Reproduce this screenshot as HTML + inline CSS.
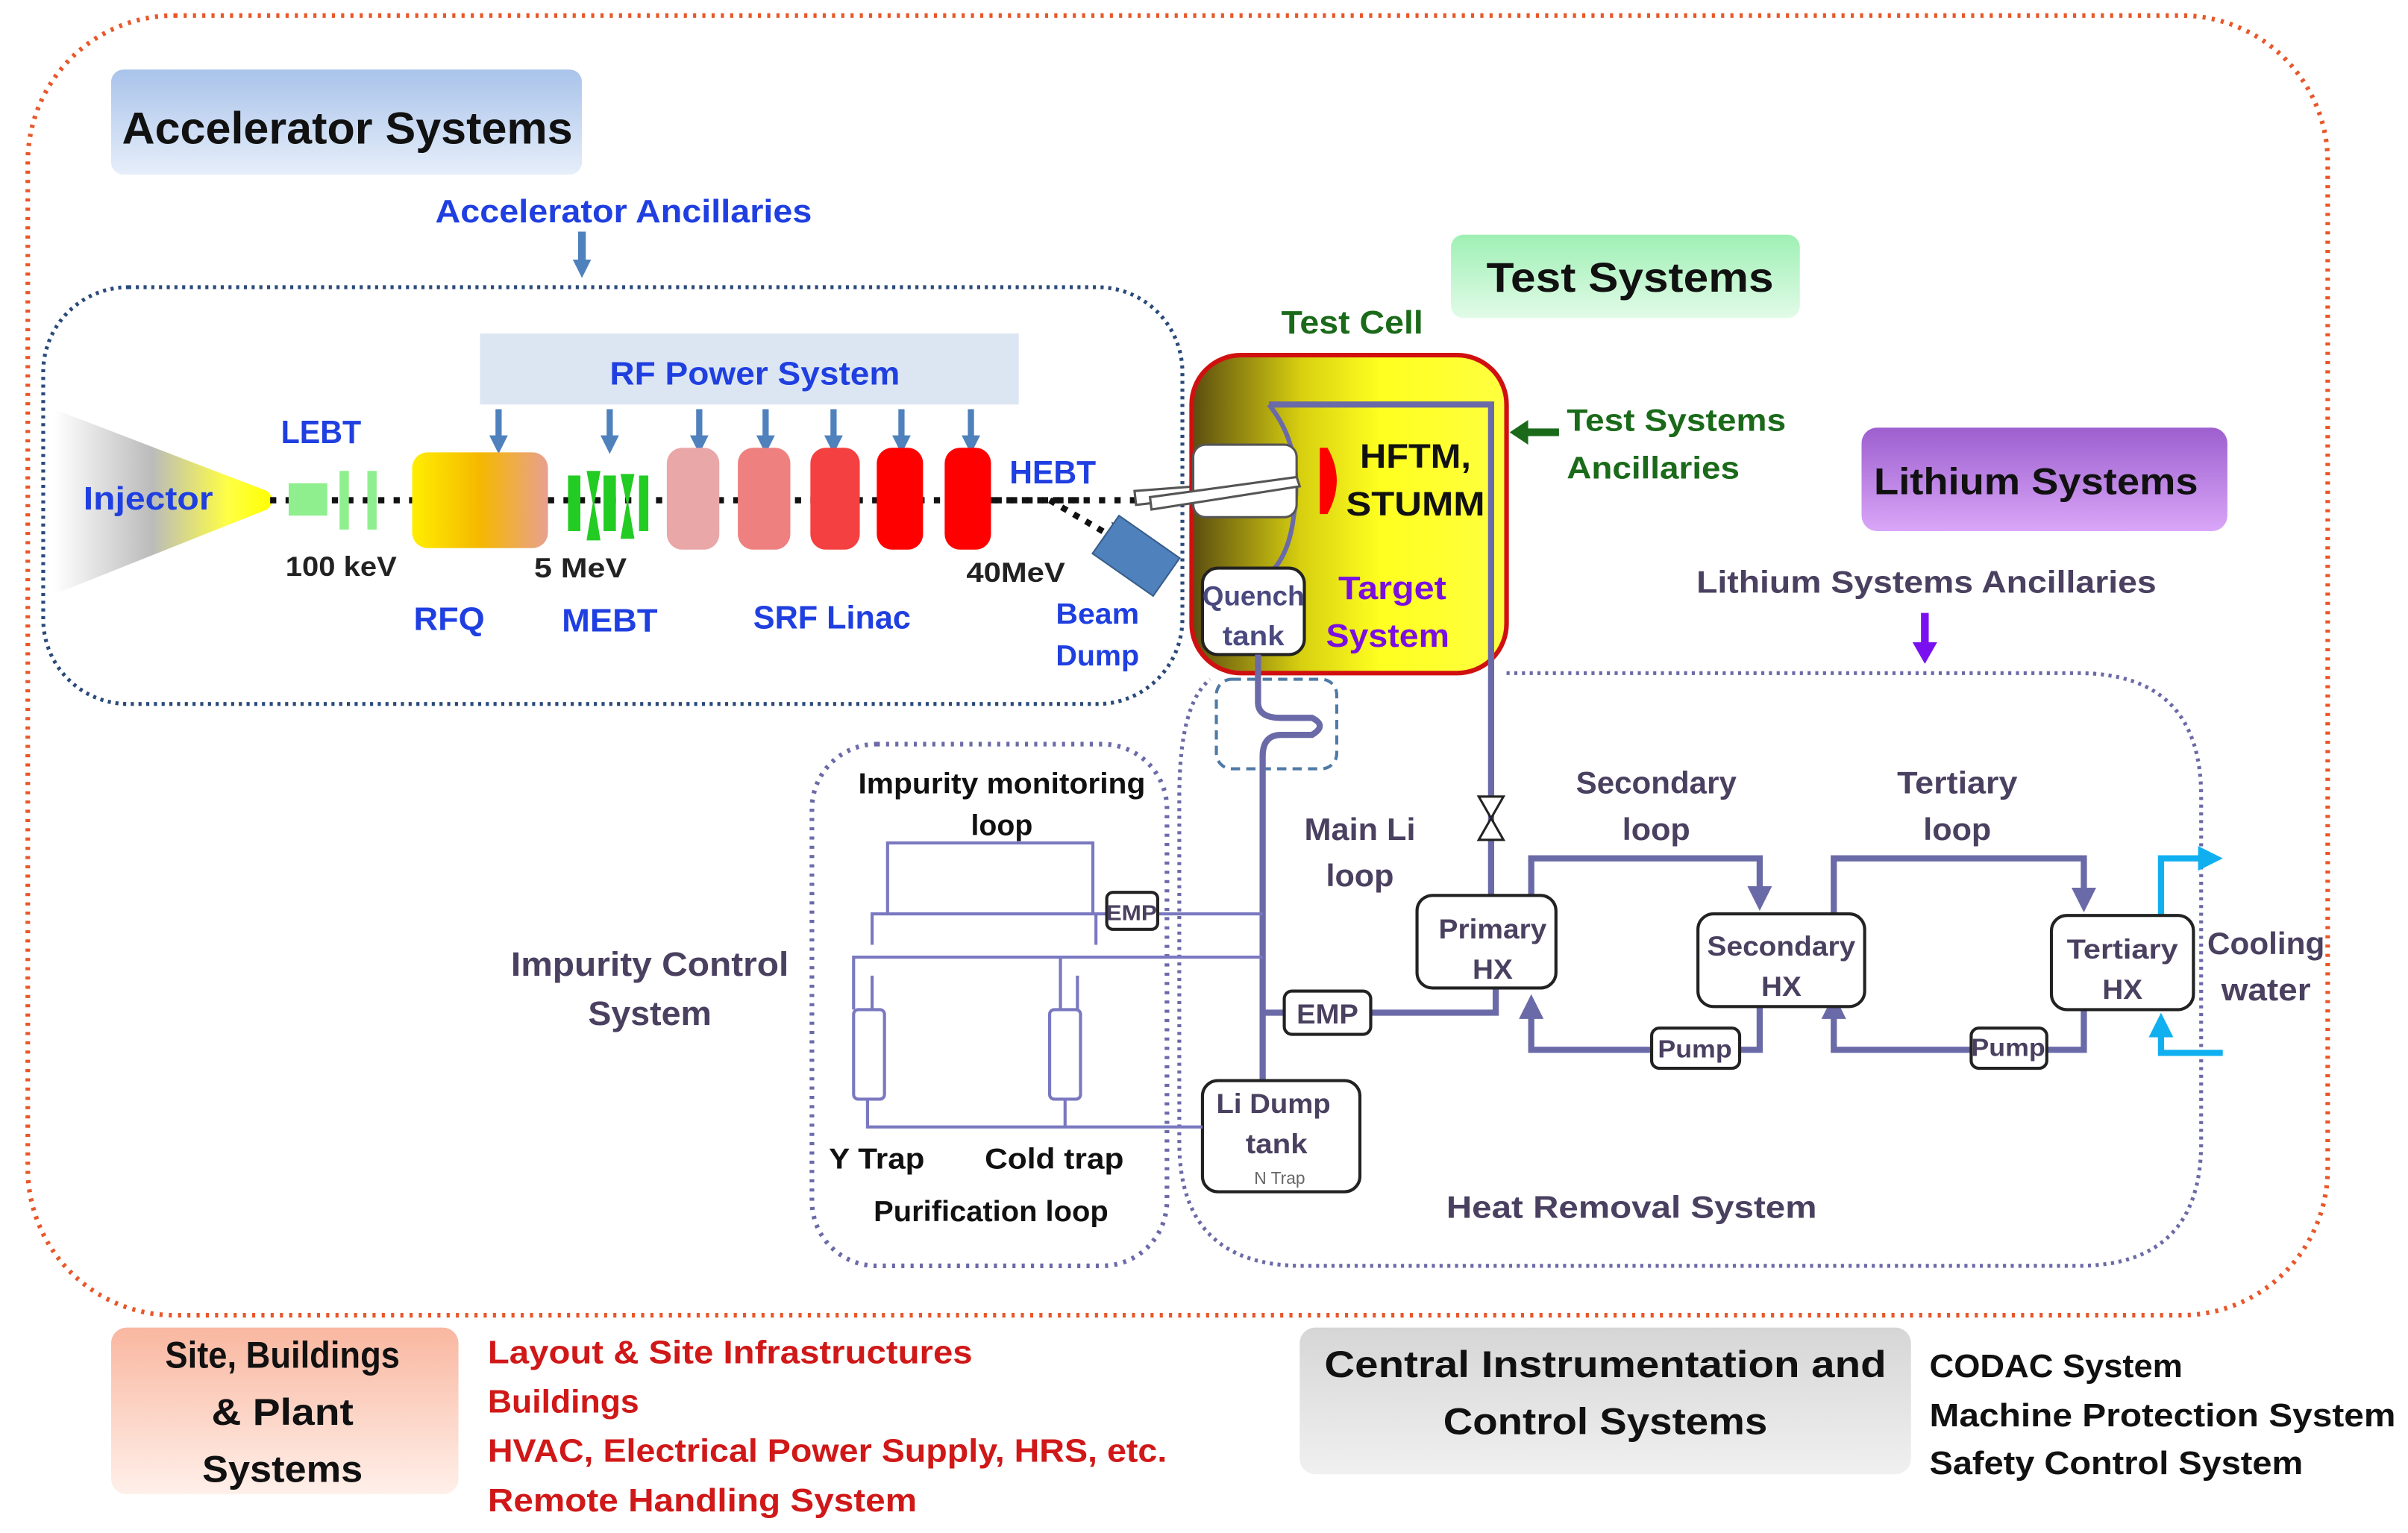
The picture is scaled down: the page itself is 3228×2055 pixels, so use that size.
<!DOCTYPE html>
<html><head><meta charset="utf-8"><style>
html,body{margin:0;padding:0;background:#fff}
svg{display:block}
text{font-family:"Liberation Sans",sans-serif;font-weight:bold}
</style></head><body>
<svg width="3228" height="2055" viewBox="0 0 1560 993" xmlns="http://www.w3.org/2000/svg">
<defs>
<linearGradient id="gAcc" x1="0" y1="0" x2="0" y2="1"><stop offset="0" stop-color="#a9c3ea"/><stop offset="1" stop-color="#e6eefa"/></linearGradient>
<linearGradient id="gTest" x1="0" y1="0" x2="0" y2="1"><stop offset="0" stop-color="#9ef0b4"/><stop offset="1" stop-color="#e2fbe8"/></linearGradient>
<linearGradient id="gLi" x1="0" y1="0" x2="0" y2="1"><stop offset="0" stop-color="#9d5fcf"/><stop offset="1" stop-color="#d9a6f8"/></linearGradient>
<linearGradient id="gSite" x1="0" y1="0" x2="0" y2="1"><stop offset="0" stop-color="#f9b7a0"/><stop offset="1" stop-color="#fff0ea"/></linearGradient>
<linearGradient id="gCIC" x1="0" y1="0" x2="0" y2="1"><stop offset="0" stop-color="#d6d6d6"/><stop offset="1" stop-color="#f0f0f0"/></linearGradient>
<linearGradient id="gInj" x1="0" y1="0" x2="1" y2="0"><stop offset="0" stop-color="#fff"/><stop offset="0.45" stop-color="#bbb"/><stop offset="0.8" stop-color="#ffff44"/><stop offset="1" stop-color="#ffff00"/></linearGradient>
<linearGradient id="gRFQ" x1="0" y1="0" x2="1" y2="0"><stop offset="0" stop-color="#ffee00"/><stop offset="0.5" stop-color="#f5b800"/><stop offset="1" stop-color="#e8a090"/></linearGradient>
<linearGradient id="gTgt" x1="0" y1="0" x2="1" y2="0"><stop offset="0" stop-color="#5a4c10"/><stop offset="0.35" stop-color="#d8d010"/><stop offset="0.6" stop-color="#ffff20"/><stop offset="1" stop-color="#ffff40"/></linearGradient>
<marker id="aB" markerUnits="userSpaceOnUse" markerWidth="12" markerHeight="12" refX="4" refY="6" orient="auto"><path d="M0,0 L12,6 L0,12z" fill="#4f81bd"/></marker>
<marker id="aP" markerWidth="4" markerHeight="4" refX="2" refY="2" orient="auto"><path d="M0,0 L4,2 L0,4z" fill="#6b6aa8"/></marker>
<marker id="aC" markerWidth="4" markerHeight="4" refX="2" refY="2" orient="auto"><path d="M0,0 L4,2 L0,4z" fill="#10b0f0"/></marker>
</defs>

<rect x="18" y="10" width="1490" height="842" rx="95" fill="none" stroke="#e8572a" stroke-width="3" stroke-dasharray="2 4"/>

<rect x="72" y="45" width="305" height="68" rx="8" fill="url(#gAcc)"/>
<text x="225" y="93" font-size="29" text-anchor="middle" fill="#111" textLength="292" lengthAdjust="spacingAndGlyphs">Accelerator Systems</text>
<text x="404" y="144" font-size="21" text-anchor="middle" fill="#1f3fe0" textLength="244" lengthAdjust="spacingAndGlyphs">Accelerator Ancillaries</text>
<line x1="377" y1="150" x2="377" y2="172" stroke="#4f81bd" stroke-width="5" marker-end="url(#aB)"/>

<rect x="28" y="186" width="738" height="270" rx="55" fill="none" stroke="#2a4a7a" stroke-width="2.5" stroke-dasharray="2 3"/>

<rect x="311" y="216" width="349" height="46" fill="#dce6f2"/>
<text x="489" y="249" font-size="21" text-anchor="middle" fill="#1f3fe0" textLength="188" lengthAdjust="spacingAndGlyphs">RF Power System</text>
<g stroke="#4f81bd" stroke-width="4" marker-end="url(#aB)">
<line x1="323" y1="265" x2="323" y2="286"/><line x1="395" y1="265" x2="395" y2="286"/><line x1="453" y1="265" x2="453" y2="286"/><line x1="496" y1="265" x2="496" y2="286"/><line x1="540" y1="265" x2="540" y2="286"/><line x1="584" y1="265" x2="584" y2="286"/><line x1="629" y1="265" x2="629" y2="286"/>
</g>

<path d="M35,265 L173,318 Q180,324 173,330 L35,385z" fill="url(#gInj)"/>
<text x="96" y="330" font-size="21" text-anchor="middle" fill="#1f3fe0" textLength="84" lengthAdjust="spacingAndGlyphs">Injector</text>
<text x="208" y="287" font-size="21" text-anchor="middle" fill="#1f3fe0" textLength="52" lengthAdjust="spacingAndGlyphs">LEBT</text>
<line x1="175" y1="324" x2="700" y2="324" stroke="#111" stroke-width="4" stroke-dasharray="4 6"/>
<rect x="187" y="313" width="25" height="21" fill="#8fef8f"/>
<rect x="220" y="305" width="6" height="38" fill="#8fef8f"/>
<rect x="238" y="305" width="6" height="38" fill="#8fef8f"/>
<rect x="267" y="293" width="88" height="62" rx="10" fill="url(#gRFQ)"/>
<g fill="#22cc22">
<rect x="368" y="308" width="8" height="36"/><rect x="391" y="308" width="8" height="36"/>
<path d="M380,305 L389,305 L385,326 L389,350 L380,350 L384,326z"/>
<path d="M402,307 L411,307 L407,326 L411,349 L402,349 L406,326z"/>
<rect x="414" y="308" width="6" height="36"/>
</g>
<rect x="432" y="290" width="34" height="66" rx="10" fill="#e9a7a7"/>
<rect x="478" y="290" width="34" height="66" rx="10" fill="#ef8080"/>
<rect x="525" y="290" width="32" height="66" rx="10" fill="#f44040"/>
<rect x="568" y="290" width="30" height="66" rx="10" fill="#f00"/>
<rect x="612" y="290" width="30" height="66" rx="10" fill="#f00"/>
<line x1="642" y1="324" x2="790" y2="324" stroke="#111" stroke-width="4" stroke-dasharray="4 6"/>
<line x1="680" y1="324" x2="728" y2="352" stroke="#111" stroke-width="4" stroke-dasharray="4 5"/>
<path d="M720,338 L744,352 L728,360z" fill="#111"/>
<rect x="712" y="345" width="48" height="30" fill="#4f81bd" stroke="#385d8a" transform="rotate(35 736 360)"/>
<path d="M735,318 L840,310 L842,315 L736,327z" fill="#fff" stroke="#555" stroke-width="1.5"/>
<text x="682" y="313" font-size="21" text-anchor="middle" fill="#1f3fe0" textLength="56" lengthAdjust="spacingAndGlyphs">HEBT</text>
<g font-size="18" fill="#222" text-anchor="middle" style="font-weight:normal">
<text x="221" y="373" textLength="72" lengthAdjust="spacingAndGlyphs">100 keV</text>
<text x="376" y="374" textLength="60" lengthAdjust="spacingAndGlyphs">5 MeV</text>
<text x="658" y="377" textLength="64" lengthAdjust="spacingAndGlyphs">40MeV</text>
</g>
<g font-size="21" fill="#1f3fe0" text-anchor="middle">
<text x="291" y="408" textLength="46" lengthAdjust="spacingAndGlyphs">RFQ</text>
<text x="395" y="409" textLength="62" lengthAdjust="spacingAndGlyphs">MEBT</text>
<text x="539" y="407" textLength="102" lengthAdjust="spacingAndGlyphs">SRF Linac</text>
<text x="711" y="404" font-size="19" textLength="54" lengthAdjust="spacingAndGlyphs">Beam</text>
<text x="711" y="431" font-size="19" textLength="54" lengthAdjust="spacingAndGlyphs">Dump</text>
</g>

<text x="876" y="216" font-size="21" text-anchor="middle" fill="#1a6a1a" textLength="92" lengthAdjust="spacingAndGlyphs">Test Cell</text>
<rect x="940" y="152" width="226" height="54" rx="8" fill="url(#gTest)"/>
<text x="1056" y="189" font-size="27" text-anchor="middle" fill="#111" textLength="186" lengthAdjust="spacingAndGlyphs">Test Systems</text>
<rect x="772" y="230" width="204" height="206" rx="32" fill="url(#gTgt)" stroke="#d01010" stroke-width="3"/>
<path d="M822,262 L966,262 L966,580" fill="none" stroke="#6b6aa8" stroke-width="4"/>
<path d="M822,262 Q845,290 838,335 Q835,360 822,372" fill="none" stroke="#6b6aa8" stroke-width="3"/>
<rect x="773" y="288" width="67" height="47" rx="8" fill="#fff" stroke="#555" stroke-width="1.5"/>
<path d="M745,322 L840,309 L842,315 L746,330z" fill="#fff" stroke="#555" stroke-width="1.5"/>
<path d="M855,290 L860,290 Q872,311 860,333 L855,333z" fill="#f00"/>
<text x="917" y="303" font-size="22" text-anchor="middle" fill="#111" textLength="72" lengthAdjust="spacingAndGlyphs">HFTM,</text>
<text x="917" y="334" font-size="22" text-anchor="middle" fill="#111" textLength="90" lengthAdjust="spacingAndGlyphs">STUMM</text>
<text x="902" y="388" font-size="21" text-anchor="middle" fill="#7a10e0" textLength="70" lengthAdjust="spacingAndGlyphs">Target</text>
<text x="899" y="419" font-size="21" text-anchor="middle" fill="#7a10e0" textLength="80" lengthAdjust="spacingAndGlyphs">System</text>
<rect x="779" y="368" width="66" height="56" rx="10" fill="#fff" stroke="#222" stroke-width="2"/>
<text x="812" y="392" font-size="18" text-anchor="middle" fill="#4a4a80" textLength="66" lengthAdjust="spacingAndGlyphs">Quench</text>
<text x="812" y="418" font-size="18" text-anchor="middle" fill="#4a4a80" textLength="40" lengthAdjust="spacingAndGlyphs">tank</text>
<line x1="1010" y1="280" x2="988" y2="280" stroke="#1a6a1a" stroke-width="5"/>
<path d="M978,280 L990,272 L990,288z" fill="#1a6a1a"/>
<text x="1015" y="279" font-size="20" fill="#1a6a1a" textLength="142" lengthAdjust="spacingAndGlyphs">Test Systems</text>
<text x="1015" y="310" font-size="20" fill="#1a6a1a" textLength="112" lengthAdjust="spacingAndGlyphs">Ancillaries</text>

<rect x="1206" y="277" width="237" height="67" rx="10" fill="url(#gLi)"/>
<text x="1319" y="320" font-size="24" text-anchor="middle" fill="#111" textLength="210" lengthAdjust="spacingAndGlyphs">Lithium Systems</text>
<text x="1248" y="384" font-size="20" text-anchor="middle" fill="#4a4060" textLength="298" lengthAdjust="spacingAndGlyphs">Lithium Systems Ancillaries</text>
<line x1="1247" y1="397" x2="1247" y2="418" stroke="#7a10f0" stroke-width="5"/>
<path d="M1239,416 L1255,416 L1247,430z" fill="#7a10f0"/>

<path d="M976,436 L1346,436 Q1426,436 1426,516 L1426,740 Q1426,820 1346,820 L844,820 Q764,820 764,740 L764,516 Q764,456 784,440" fill="none" stroke="#6b6aa8" stroke-width="2.5" stroke-dasharray="2 3"/>
<rect x="526" y="482" width="230" height="338" rx="42" fill="none" stroke="#6b6aa8" stroke-width="3" stroke-dasharray="2 4"/>
<rect x="788" y="440" width="78" height="58" rx="10" fill="none" stroke="#4f7aa8" stroke-width="2" stroke-dasharray="6 4"/>

<path d="M815,424 L815,455 Q815,465 830,465 L850,465 Q860,470 850,476 L830,476 Q818,476 818,490 L818,700" fill="none" stroke="#6b6aa8" stroke-width="4"/>
<path d="M818,656 L832,656" stroke="#6b6aa8" stroke-width="4"/>
<path d="M888,656 L969,656 L969,640" fill="none" stroke="#6b6aa8" stroke-width="4"/>
<path d="M958,516 L974,516 L958,544 L974,544z" fill="#fff" stroke="#222" stroke-width="1.5"/>
<path d="M992,580 L992,556 L1140,556 L1140,582" fill="none" stroke="#6b6aa8" stroke-width="4" marker-end="url(#aP)"/>
<path d="M1140,652 L1140,680 L992,680 L992,652" fill="none" stroke="#6b6aa8" stroke-width="4" marker-end="url(#aP)"/>
<path d="M1188,592 L1188,556 L1350,556 L1350,583" fill="none" stroke="#6b6aa8" stroke-width="4" marker-end="url(#aP)"/>
<path d="M1350,654 L1350,680 L1188,680 L1188,652" fill="none" stroke="#6b6aa8" stroke-width="4" marker-end="url(#aP)"/>
<path d="M1400,593 L1400,556 L1432,556" fill="none" stroke="#10b0f0" stroke-width="4" marker-end="url(#aC)"/>
<path d="M1440,682 L1400,682 L1400,664" fill="none" stroke="#10b0f0" stroke-width="4" marker-end="url(#aC)"/>

<g fill="#fff" stroke="#222" stroke-width="2">
<rect x="918" y="580" width="90" height="60" rx="10"/>
<rect x="1100" y="592" width="108" height="60" rx="10"/>
<rect x="1329" y="593" width="92" height="61" rx="10"/>
<rect x="832" y="642" width="56" height="28" rx="5"/>
<rect x="1070" y="666" width="57" height="26" rx="5"/>
<rect x="1277" y="666" width="49" height="26" rx="5"/>
<rect x="779" y="700" width="102" height="72" rx="10"/>
</g>
<g font-size="18" fill="#4a4060" text-anchor="middle">
<text x="967" y="608" textLength="70" lengthAdjust="spacingAndGlyphs">Primary</text>
<text x="967" y="634" textLength="26" lengthAdjust="spacingAndGlyphs">HX</text>
<text x="1154" y="619" textLength="96" lengthAdjust="spacingAndGlyphs">Secondary</text>
<text x="1154" y="645" textLength="26" lengthAdjust="spacingAndGlyphs">HX</text>
<text x="1375" y="621" textLength="72" lengthAdjust="spacingAndGlyphs">Tertiary</text>
<text x="1375" y="647" textLength="26" lengthAdjust="spacingAndGlyphs">HX</text>
<text x="860" y="663" textLength="40" lengthAdjust="spacingAndGlyphs">EMP</text>
<text x="1098" y="685" font-size="16" textLength="48" lengthAdjust="spacingAndGlyphs">Pump</text>
<text x="1301" y="684" font-size="16" textLength="48" lengthAdjust="spacingAndGlyphs">Pump</text>
<text x="825" y="721" textLength="74" lengthAdjust="spacingAndGlyphs">Li Dump</text>
<text x="827" y="747" textLength="40" lengthAdjust="spacingAndGlyphs">tank</text>
<text x="829" y="767" font-size="11" style="font-weight:normal" fill="#666">N Trap</text>
</g>
<g font-size="20" fill="#4a4060" text-anchor="middle">
<text x="1073" y="514" textLength="104" lengthAdjust="spacingAndGlyphs">Secondary</text>
<text x="1073" y="544" textLength="44" lengthAdjust="spacingAndGlyphs">loop</text>
<text x="1268" y="514" textLength="78" lengthAdjust="spacingAndGlyphs">Tertiary</text>
<text x="1268" y="544" textLength="44" lengthAdjust="spacingAndGlyphs">loop</text>
<text x="881" y="544" textLength="72" lengthAdjust="spacingAndGlyphs">Main Li</text>
<text x="881" y="574" textLength="44" lengthAdjust="spacingAndGlyphs">loop</text>
<text x="1468" y="618" textLength="76" lengthAdjust="spacingAndGlyphs">Cooling</text>
<text x="1468" y="648" textLength="58" lengthAdjust="spacingAndGlyphs">water</text>
<text x="1057" y="789" textLength="240" lengthAdjust="spacingAndGlyphs">Heat Removal System</text>
<text x="421" y="632" font-size="22" textLength="180" lengthAdjust="spacingAndGlyphs">Impurity Control</text>
<text x="421" y="664" font-size="22" textLength="80" lengthAdjust="spacingAndGlyphs">System</text>
</g>

<g fill="none" stroke="#7a78c0" stroke-width="2">
<path d="M575,592 L575,546 L708,546 L708,592"/>
<path d="M565,612 L565,592 L717,592"/>
<path d="M750,592 L818,592"/>
<path d="M710,592 L710,612"/>
<path d="M553,654 L553,620 L818,620"/>
<path d="M687,620 L687,654"/>
<path d="M565,632 L565,654"/>
<path d="M698,632 L698,654"/>
<rect x="553" y="654" width="20" height="58" rx="3"/>
<rect x="680" y="654" width="20" height="58" rx="3"/>
<path d="M562,712 L562,730 L779,730"/>
<path d="M690,712 L690,730"/>
</g>
<rect x="717" y="578" width="33" height="24" rx="4" fill="#fff" stroke="#222" stroke-width="2"/>
<text x="733" y="596" font-size="14" text-anchor="middle" fill="#4a4060" textLength="33" lengthAdjust="spacingAndGlyphs">EMP</text>
<g font-size="19" fill="#111" text-anchor="middle">
<text x="649" y="514" textLength="186" lengthAdjust="spacingAndGlyphs">Impurity monitoring</text>
<text x="649" y="541" textLength="40" lengthAdjust="spacingAndGlyphs">loop</text>
<text x="568" y="757" textLength="62" lengthAdjust="spacingAndGlyphs">Y Trap</text>
<text x="683" y="757" textLength="90" lengthAdjust="spacingAndGlyphs">Cold trap</text>
<text x="642" y="791" textLength="152" lengthAdjust="spacingAndGlyphs">Purification loop</text>
</g>

<rect x="72" y="860" width="225" height="108" rx="10" fill="url(#gSite)"/>
<g font-size="24" fill="#111" text-anchor="middle">
<text x="183" y="886" textLength="152" lengthAdjust="spacingAndGlyphs">Site, Buildings</text>
<text x="183" y="923" textLength="92" lengthAdjust="spacingAndGlyphs">&amp; Plant</text>
<text x="183" y="960" textLength="104" lengthAdjust="spacingAndGlyphs">Systems</text>
</g>
<g font-size="21" fill="#d01818">
<text x="316" y="883" textLength="314" lengthAdjust="spacingAndGlyphs">Layout &amp; Site Infrastructures</text>
<text x="316" y="915" textLength="98" lengthAdjust="spacingAndGlyphs">Buildings</text>
<text x="316" y="947" textLength="440" lengthAdjust="spacingAndGlyphs">HVAC, Electrical Power Supply, HRS, etc.</text>
<text x="316" y="979" textLength="278" lengthAdjust="spacingAndGlyphs">Remote Handling System</text>
</g>
<rect x="842" y="860" width="396" height="95" rx="10" fill="url(#gCIC)"/>
<g font-size="24" fill="#111" text-anchor="middle">
<text x="1040" y="892" textLength="364" lengthAdjust="spacingAndGlyphs">Central Instrumentation and</text>
<text x="1040" y="929" textLength="210" lengthAdjust="spacingAndGlyphs">Control Systems</text>
</g>
<g font-size="21" fill="#111">
<text x="1250" y="892" textLength="164" lengthAdjust="spacingAndGlyphs">CODAC System</text>
<text x="1250" y="924" textLength="302" lengthAdjust="spacingAndGlyphs">Machine Protection System</text>
<text x="1250" y="955" textLength="242" lengthAdjust="spacingAndGlyphs">Safety Control System</text>
</g>
</svg>
</body></html>
